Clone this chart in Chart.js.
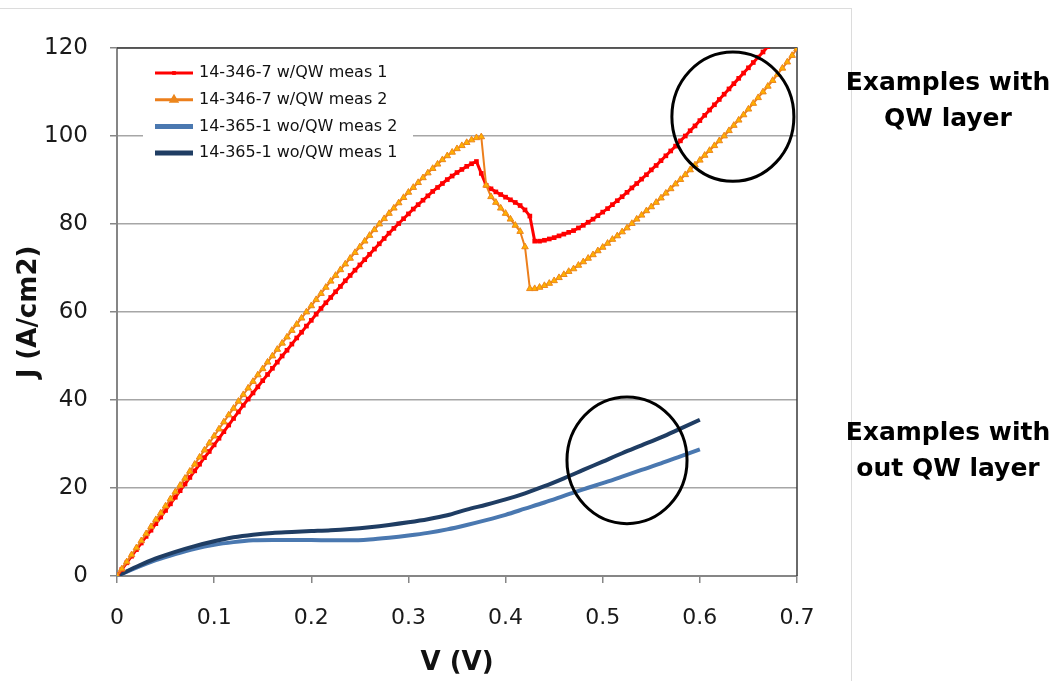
<!DOCTYPE html>
<html lang="en">
<head>
  <meta charset="UTF-8" />
  <title>J-V curves with and without QW layer</title>
  <style>
    body {
      margin: 0;
      padding: 0;
      background: #fff;
    }
    .wrap {
      position: relative;
      width: 1058px;
      height: 681px;
      overflow: hidden;
    }
    .frame {
      position: absolute;
      left: -1px;
      top: 8px;
      width: 852px;
      height: 700px;
      border-top: 1px solid #dcdcdc;
      border-right: 1px solid #dcdcdc;
    }
    .note {
      position: absolute;
      left: 798px;
      width: 300px;
      text-align: center;
      font-family: "DejaVu Sans", sans-serif;
      font-weight: bold;
      font-size: 25px;
      line-height: 36px;
      color: #000;
    }
    canvas {
      position: absolute;
      left: 0;
      top: 0;
    }
  </style>
  <script src="https://cdn.jsdelivr.net/npm/chart.js"></script>
</head>
<body>
  <div class="wrap">
    <div class="frame"></div>
    <canvas id="jv" width="1058" height="681"></canvas>
    <div class="note" style="top:64px">Examples with<br>QW layer</div>
    <div class="note" style="top:414px">Examples with<br>out QW layer</div>
  </div>

  <script>
    // voltage grid of the QW samples (V)
    const vFine = [0,0.005,0.01,0.015,0.02,0.025,0.03,0.035,0.04,0.045,0.05,0.055,0.06,0.065,0.07,0.075,0.08,0.085,0.09,0.095,
      0.1,0.105,0.11,0.115,0.12,0.125,0.13,0.135,0.14,0.145,0.15,0.155,0.16,0.165,0.17,0.175,0.18,0.185,0.19,0.195,
      0.2,0.205,0.21,0.215,0.22,0.225,0.23,0.235,0.24,0.245,0.25,0.255,0.26,0.265,0.27,0.275,0.28,0.285,0.29,0.295,
      0.3,0.305,0.31,0.315,0.32,0.325,0.33,0.335,0.34,0.345,0.35,0.355,0.36,0.365,0.37,0.375,0.38,0.385,0.39,0.395,
      0.4,0.405,0.41,0.415,0.42,0.425,0.43,0.435,0.44,0.445,0.45,0.455,0.46,0.465,0.47,0.475,0.48,0.485,0.49,0.495,
      0.5,0.505,0.51,0.515,0.52,0.525,0.53,0.535,0.54,0.545,0.55,0.555,0.56,0.565,0.57,0.575,0.58,0.585,0.59,0.595,
      0.6,0.605,0.61,0.615,0.62,0.625,0.63,0.635,0.64,0.645,0.65,0.655,0.66,0.665,0.67,0.675,0.68,0.685,0.69,0.695,0.7];

    // 14-346-7 w/QW meas 1 (A/cm2)
    const jRed = [0,1.5,3.0,4.5,6.0,7.5,9.0,10.4,11.9,13.4,
      14.9,16.4,17.9,19.4,20.9,22.4,23.9,25.4,26.9,28.3,
      29.8,31.3,32.8,34.3,35.8,37.3,38.8,40.2,41.6,43.0,
      44.4,45.8,47.2,48.6,50.0,51.3,52.7,54.1,55.4,56.8,
      58.1,59.5,60.8,62.1,63.3,64.6,65.8,67.1,68.3,69.5,
      70.7,71.9,73.1,74.3,75.5,76.7,77.9,79.0,80.1,81.2,
      82.3,83.4,84.4,85.4,86.4,87.4,88.3,89.2,90.1,90.9,
      91.7,92.4,93.1,93.7,94.2,91.5,88.8,88.0,87.3,86.7,
      86.1,85.5,84.9,84.2,83.2,81.8,76.1,76.1,76.3,76.6,
      76.9,77.3,77.7,78.1,78.5,79.1,79.7,80.4,81.1,81.9,
      82.7,83.5,84.4,85.3,86.2,87.2,88.2,89.2,90.2,91.2,
      92.3,93.3,94.4,95.5,96.6,97.7,98.9,100.0,101.2,102.3,
      103.5,104.7,105.9,107.1,108.3,109.5,110.7,111.9,113.1,114.3,
      115.5,116.7,117.9,119.1,120.3];

    // 14-346-7 w/QW meas 2 (A/cm2)
    const jOrange = [0,1.6,3.2,4.8,6.4,8.0,9.6,11.2,12.8,14.3,
      15.9,17.5,19.1,20.6,22.2,23.8,25.4,27.0,28.6,30.2,
      31.8,33.4,35.0,36.6,38.1,39.7,41.2,42.7,44.2,45.7,
      47.1,48.6,50.0,51.5,52.9,54.3,55.8,57.2,58.6,60.0,
      61.4,62.8,64.2,65.6,67.0,68.3,69.6,70.9,72.2,73.5,
      74.8,76.1,77.4,78.7,80.0,81.2,82.4,83.6,84.8,86.0,
      87.2,88.3,89.4,90.5,91.6,92.6,93.6,94.6,95.5,96.3,
      97.1,97.8,98.5,99.1,99.6,99.8,88.8,86.2,84.9,83.6,
      82.4,81.1,79.7,78.3,74.8,65.3,65.3,65.6,66.0,66.5,
      67.1,67.8,68.5,69.2,69.8,70.6,71.4,72.2,73.0,73.9,
      74.7,75.6,76.5,77.3,78.2,79.1,80.1,81.1,82.0,83.0,
      83.9,84.9,85.9,87.0,88.0,89.1,90.1,91.2,92.3,93.4,
      94.5,95.6,96.7,97.8,98.9,100.0,101.2,102.4,103.6,104.8,
      106.1,107.4,108.7,110.0,111.3,112.6,114.0,115.4,116.8,118.3,
      119.8];

    // voltage grid of the samples without QW (V)
    const vCoarse = [0,0.02,0.04,0.06,0.08,0.1,0.12,0.14,0.16,0.18,0.2,0.22,0.24,0.26,0.28,0.3,
      0.32,0.34,0.36,0.38,0.4,0.42,0.44,0.46,0.48,0.5,0.52,0.54,0.56,0.58,0.6];

    // 14-365-1 wo/QW meas 2
    const jLight = [0,1.9,3.6,5.0,6.2,7.1,7.7,8.1,8.2,8.2,8.2,8.1,8.1,8.3,8.7,9.2,
      9.8,10.6,11.6,12.7,13.9,15.3,16.7,18.2,19.7,21.1,22.6,24.1,25.6,27.2,28.8];

    // 14-365-1 wo/QW meas 1
    const jDark = [0,2.1,4.0,5.5,6.8,7.9,8.8,9.4,9.8,10.0,10.2,10.4,10.7,11.1,11.6,12.2,
      12.9,13.8,15.1,16.2,17.4,18.8,20.4,22.2,24.1,26.0,27.9,29.7,31.5,33.5,35.5];

    const seriesLabels = ['14-346-7 w/QW meas 1', '14-346-7 w/QW meas 2', '14-365-1 wo/QW meas 2', '14-365-1 wo/QW meas 1'];
    const xTicks = [0, 0.1, 0.2, 0.3, 0.4, 0.5, 0.6, 0.7];

    // circles drawn around the curve ends: centre (V, J) and radii (V, J)
    const ringCentres = [[0.634, 104.4], [0.525, 26.3]];
    const ringRadii = [[0.0628, 14.7], [0.0618, 14.4]];

    const pts = (xs, ys) => ys.map((y, i) => ({ x: xs[i], y: y }));

    const FONT = '"DejaVu Sans", sans-serif';

    // plot border on top and right
    const borderPlugin = {
      id: 'plotBorder',
      beforeDatasetsDraw(chart) {
        const { ctx, chartArea: a } = chart;
        ctx.save();
        ctx.strokeStyle = '#3a3a3a';
        ctx.lineWidth = 1.5;
        ctx.beginPath();
        ctx.moveTo(a.left, a.top);
        ctx.lineTo(a.right, a.top);
        ctx.lineTo(a.right, a.bottom);
        ctx.stroke();
        ctx.restore();
      }
    };

    // legend sitting inside the plot, top-left
    const insideLegend = {
      id: 'insideLegend',
      afterDatasetsDraw(chart) {
        const { ctx, chartArea: a } = chart;
        ctx.save();
        ctx.fillStyle = '#fff';
        ctx.fillRect(a.left + 26, a.top + 10, 270, 108);
        chart.data.datasets.forEach((ds, i) => {
          const y = a.top + 25 + i * 26.7;
          const x1 = a.left + 38, x2 = a.left + 76;
          ctx.strokeStyle = ds.borderColor;
          ctx.lineWidth = ds.pointRadius ? 3 : 5;
          ctx.beginPath();
          ctx.moveTo(x1, y);
          ctx.lineTo(x2, y);
          ctx.stroke();
          if (ds.pointRadius) {
            ctx.fillStyle = ds.pointBackgroundColor;
            ctx.strokeStyle = ds.pointBorderColor;
            Chart.helpers.drawPoint(ctx, {
              pointStyle: ds.pointStyle,
              radius: ds.pointRadius * 0.8,
              borderWidth: ds.pointBorderWidth
            }, (x1 + x2) / 2, y);
          }
          ctx.fillStyle = '#111';
          ctx.font = '16px ' + FONT;
          ctx.textBaseline = 'middle';
          ctx.fillText(ds.label, x2 + 6, y);
        });
        ctx.restore();
      }
    };

    // black ellipses
    const ringPlugin = {
      id: 'rings',
      afterDraw(chart) {
        const { ctx, scales: { x, y } } = chart;
        ctx.save();
        ctx.strokeStyle = '#000';
        ctx.lineWidth = 3;
        ringCentres.forEach((c, i) => {
          const cx = x.getPixelForValue(c[0]);
          const cy = y.getPixelForValue(c[1]);
          const rx = x.getPixelForValue(c[0] + ringRadii[i][0]) - cx;
          const ry = cy - y.getPixelForValue(c[1] + ringRadii[i][1]);
          ctx.beginPath();
          ctx.ellipse(cx, cy, rx, ry, 0, 0, Math.PI * 2);
          ctx.stroke();
        });
        ctx.restore();
      }
    };

    const ctx = document.getElementById('jv').getContext('2d');

    new Chart(ctx, {
      type: 'line',
      data: {
        datasets: [{
          label: seriesLabels[0],
          data: pts(vFine, jRed),
          borderColor: '#ff0000',
          borderWidth: 3,
          pointStyle: 'rect',
          pointRadius: 3.3,
          pointBackgroundColor: '#ff0000',
          pointBorderColor: '#ff0000',
          pointBorderWidth: 0,
          order: 2
        }, {
          label: seriesLabels[1],
          data: pts(vFine, jOrange),
          borderColor: '#ec7f1c',
          borderWidth: 2,
          pointStyle: 'triangle',
          pointRadius: 3.8,
          pointBackgroundColor: '#ffb000',
          pointBorderColor: '#ec861c',
          pointBorderWidth: 1,
          order: 1
        }, {
          label: seriesLabels[2],
          data: pts(vCoarse, jLight),
          borderColor: '#4a78b0',
          borderWidth: 4,
          pointRadius: 0,
          cubicInterpolationMode: 'monotone',
          order: 4
        }, {
          label: seriesLabels[3],
          data: pts(vCoarse, jDark),
          borderColor: '#1f3d63',
          borderWidth: 4,
          pointRadius: 0,
          cubicInterpolationMode: 'monotone',
          order: 3
        }]
      },
      options: {
        responsive: false,
        animation: false,
        events: [],
        layout: { padding: { left: 0, right: 261, top: 48, bottom: 0 } },
        plugins: {
          legend: { display: false },
          tooltip: { enabled: false }
        },
        scales: {
          x: {
            type: 'linear',
            min: 0,
            max: 0.7,
            afterBuildTicks: s => { s.ticks = xTicks.map(v => ({ value: v })); },
            afterFit: s => { s.height = 105; s.paddingLeft = 0; s.paddingRight = 0; },
            ticks: {
              callback: v => String(+v.toFixed(1)),
              font: { family: FONT, size: 22 },
              color: '#1a1a1a',
              padding: 22,
              maxRotation: 0
            },
            grid: { drawOnChartArea: false, tickLength: 7, tickColor: '#868686', lineWidth: 1.5 },
            border: { color: '#868686', width: 2 },
            title: {
              display: true,
              text: 'V (V)',
              font: { family: FONT, size: 26, weight: 'bold' },
              color: '#111',
              padding: { top: 0, bottom: 2 }
            }
          },
          y: {
            min: 0,
            max: 120,
            afterFit: s => { s.width = 117; s.paddingTop = 0; s.paddingBottom = 0; },
            ticks: {
              stepSize: 20,
              font: { family: FONT, size: 23 },
              color: '#1a1a1a',
              padding: 22
            },
            grid: { color: '#a6a6a6', lineWidth: 1.5, tickLength: 7, tickColor: '#868686' },
            border: { color: '#868686', width: 2 },
            title: {
              display: true,
              text: 'J (A/cm2)',
              font: { family: FONT, size: 26, weight: 'bold' },
              color: '#111',
              padding: { top: 14, bottom: 0 }
            }
          }
        }
      },
      plugins: [borderPlugin, insideLegend, ringPlugin]
    });
  </script>
</body>
</html>
